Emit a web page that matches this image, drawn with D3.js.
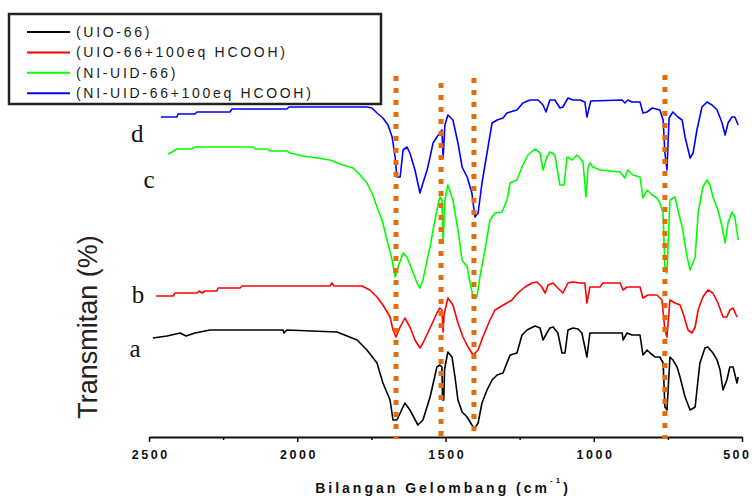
<!DOCTYPE html>
<html>
<head>
<meta charset="utf-8">
<script src="https://cdn.jsdelivr.net/npm/d3@7"></script>
<style>
  body { margin: 0; background: #fff; }
  svg { display: block; }
  .tickLbl { font-family: 'Liberation Sans', Arial, sans-serif; font-size: 12.5px; font-weight: bold; letter-spacing: 2.5px; fill: #111; }
  .legendTxt { font-family: 'Liberation Sans', Arial, sans-serif; font-size: 14px; letter-spacing: 2.7px; fill: #1a1a1a; }
  .curveLbl { font-family: 'Liberation Serif', 'Times New Roman', serif; font-size: 25px; fill: #111; }
</style>
</head>
<body>
<div id="ftir"></div>
<script>
// FTIR spectra: [wavenumber cm-1, transmittance with offset]
let spectrumA = [
  [2487, 99], [2439, 101], [2395, 104], [2375, 101], [2345, 104], [2294, 107], [2048, 107], [2045, 104],
  [2035, 107], [1866, 105], [1798, 97], [1765, 87], [1731, 74], [1711, 54], [1687, 37], [1677, 17],
  [1664, 17], [1637, 34], [1620, 27], [1593, 12], [1576, 17], [1552, 40], [1529, 70], [1519, 72],
  [1512, 70], [1510, 37], [1506, 37], [1503, 68], [1492, 85], [1478, 80], [1468, 60], [1458, 37],
  [1444, 25], [1427, 20], [1411, 12], [1401, 9], [1390, 14], [1377, 34], [1360, 47], [1343, 57],
  [1326, 62], [1306, 64], [1293, 74], [1282, 82], [1259, 84], [1242, 102], [1225, 107], [1198, 111],
  [1181, 109], [1171, 97], [1158, 104], [1148, 109], [1137, 110], [1121, 104], [1107, 84], [1097, 84],
  [1087, 107], [1070, 109], [1053, 108], [1040, 104], [1023, 80], [1013, 104], [904, 104], [901, 97],
  [888, 104], [871, 102], [844, 102], [834, 82], [820, 87], [810, 84], [793, 80], [777, 80],
  [766, 74], [760, 30], [753, 27], [743, 80], [733, 77], [719, 70], [709, 60], [692, 40],
  [675, 27], [658, 30], [652, 47], [642, 74], [625, 89], [615, 90], [598, 84], [584, 77],
  [574, 67], [564, 47], [551, 57], [541, 70], [530, 70], [517, 54], [513, 60]
]
let spectrumB = [
  [2476, 141], [2419, 141], [2412, 144], [2338, 144], [2331, 146], [2321, 144], [2311, 146], [2271, 146],
  [2267, 149], [2193, 149], [2186, 151], [2024, 151], [1890, 151], [1883, 154], [1876, 151], [1782, 151],
  [1755, 147], [1731, 140], [1711, 132], [1687, 120], [1677, 107], [1667, 100], [1653, 110], [1637, 119],
  [1620, 110], [1603, 97], [1586, 89], [1576, 94], [1552, 109], [1529, 124], [1519, 129], [1512, 127],
  [1508, 105], [1505, 122], [1492, 139], [1475, 132], [1458, 114], [1441, 100], [1424, 90], [1407, 82],
  [1390, 87], [1374, 100], [1350, 117], [1333, 127], [1316, 130], [1293, 134], [1276, 137], [1256, 144],
  [1232, 150], [1208, 154], [1191, 155], [1175, 150], [1164, 144], [1154, 152], [1137, 154], [1121, 149],
  [1104, 144], [1087, 154], [1070, 155], [1046, 154], [1030, 154], [1023, 134], [1013, 150], [979, 150],
  [969, 154], [911, 154], [901, 147], [888, 150], [844, 150], [834, 139], [817, 142], [787, 142],
  [770, 137], [760, 107], [753, 100], [743, 137], [726, 134], [709, 132], [699, 124], [682, 107],
  [669, 104], [658, 110], [648, 127], [632, 140], [615, 147], [598, 144], [581, 134], [564, 120],
  [551, 120], [541, 127], [530, 129], [517, 120]
]
let spectrumC = [
  [2436, 283], [2422, 285], [2406, 288], [2355, 288], [2345, 290], [2149, 290], [2142, 288], [2099, 288],
  [2092, 286], [2035, 286], [2024, 284], [1981, 281], [1933, 279], [1890, 277], [1846, 272], [1812, 269],
  [1788, 262], [1765, 254], [1748, 244], [1731, 230], [1714, 217], [1697, 197], [1680, 177], [1670, 160],
  [1660, 170], [1643, 184], [1630, 180], [1613, 167], [1596, 154], [1586, 149], [1576, 157], [1562, 177],
  [1552, 190], [1542, 207], [1529, 227], [1519, 240], [1512, 237], [1508, 194], [1502, 237], [1492, 252],
  [1475, 237], [1458, 207], [1444, 177], [1427, 170], [1417, 154], [1407, 140], [1394, 140], [1384, 160],
  [1367, 187], [1350, 217], [1333, 224], [1309, 225], [1293, 237], [1282, 254], [1259, 257], [1242, 270],
  [1222, 282], [1198, 288], [1181, 284], [1171, 267], [1158, 280], [1148, 285], [1131, 282], [1114, 252],
  [1100, 252], [1090, 280], [1073, 277], [1057, 282], [1046, 279], [1036, 274], [1026, 240], [1019, 270],
  [1013, 274], [1003, 270], [979, 267], [911, 265], [895, 259], [885, 267], [868, 262], [844, 260],
  [834, 239], [820, 247], [803, 242], [787, 239], [777, 234], [766, 224], [760, 167], [753, 164],
  [743, 237], [726, 240], [716, 227], [702, 210], [685, 180], [675, 167], [658, 180], [648, 224],
  [632, 250], [618, 257], [608, 252], [598, 240], [581, 227], [567, 210], [557, 194], [547, 214],
  [534, 225], [524, 220], [513, 197]
]
let spectrumD = [
  [2460, 320], [2406, 320], [2402, 323], [2345, 323], [2338, 325], [2227, 325], [2220, 328], [2035, 328],
  [2028, 330], [1765, 330], [1748, 329], [1731, 324], [1711, 319], [1694, 312], [1680, 300], [1670, 280],
  [1664, 260], [1653, 260], [1643, 287], [1630, 290], [1620, 284], [1603, 267], [1586, 244], [1576, 254],
  [1562, 267], [1552, 280], [1542, 294], [1529, 300], [1519, 304], [1512, 307], [1508, 279], [1502, 312],
  [1492, 322], [1475, 317], [1458, 294], [1444, 270], [1427, 260], [1411, 244], [1401, 220], [1390, 224],
  [1377, 254], [1360, 284], [1343, 314], [1326, 317], [1306, 319], [1293, 324], [1282, 325], [1259, 327],
  [1239, 334], [1215, 337], [1188, 337], [1171, 332], [1161, 325], [1148, 337], [1131, 337], [1114, 329],
  [1104, 330], [1087, 339], [1070, 337], [1046, 337], [1030, 335], [1023, 320], [1010, 336], [904, 337],
  [895, 334], [885, 337], [871, 335], [844, 335], [834, 324], [820, 325], [803, 329], [777, 327],
  [766, 317], [760, 284], [753, 267], [746, 319], [733, 325], [716, 320], [702, 317], [692, 300],
  [675, 279], [665, 284], [652, 307], [635, 330], [618, 335], [601, 332], [584, 327], [567, 314],
  [557, 302], [547, 314], [534, 320], [524, 320], [513, 312]
]

let seriesNames = ['(UIO-66)', '(UIO-66+100eq HCOOH)', '(NI-UID-66)', '(NI-UID-66+100eq HCOOH)']
let curveLetters = ['a', 'b', 'c', 'd']
let majorTicks = [2500, 2000, 1500, 1000, 500]
let minorTicks = [2250, 1750, 1250, 750]
// marked bands (cm-1) and how high the dotted guide goes
let bandWaves = [1667, 1515, 1404, 760]
let bandTops = [361, 354, 359, 362]

var allSpectra = [spectrumA, spectrumB, spectrumC, spectrumD]
var colors = ['#000000', '#ff0000', '#00ff00', '#0000ff']
// where the a-d letters sit, in data units
var letterPos = [[2547, 80], [2537, 134], [2500, 249], [2540, 295]]

var width = 752
var height = 496

var x = d3.scaleLinear()
  .domain([2500, 500])
  .range([149, 742])

var y = d3.scaleLinear()
  .domain([0, 370])
  .range([437, 67])

var svg = d3.select('#ftir')
  .append('svg')
  .attr('width', width)
  .attr('height', height)

// spectra
var line = d3.line()
  .x(function (d) { return x(d[0]) })
  .y(function (d) { return y(d[1]) })

svg.selectAll('path.spec')
  .data(allSpectra)
  .enter()
  .append('path')
  .attr('class', 'spec')
  .attr('d', line)
  .attr('fill', 'none')
  .attr('stroke', function (d, i) { return colors[i] })
  .attr('stroke-width', 1.6)
  .attr('stroke-linejoin', 'round')

// curve letters
svg.selectAll('text.curveLbl')
  .data(curveLetters)
  .enter()
  .append('text')
  .attr('class', 'curveLbl')
  .attr('x', function (d, i) { return x(letterPos[i][0]) })
  .attr('y', function (d, i) { return y(letterPos[i][1]) })
  .attr('text-anchor', 'middle')
  .text(function (d) { return d })

// x axis, major and minor ticks
var axisG = svg.append('g')
  .attr('transform', 'translate(0,' + y(0) + ')')
  .call(d3.axisBottom(x).tickValues(majorTicks).tickFormat(d3.format('d')).tickSize(5).tickSizeOuter(0).tickPadding(8))

axisG.select('.domain').attr('stroke', '#111').attr('stroke-width', 2)
axisG.selectAll('.tick line').attr('stroke', '#111').attr('stroke-width', 1.5)
axisG.selectAll('.tick text')
  .attr('class', 'tickLbl')
  .attr('font-size', null)
  .attr('font-family', null)
  .attr('fill', null)
  .attr('dx', '1.2px')

// last label would run off the right edge, so pin it there
axisG.selectAll('.tick text')
  .filter(function (d) { return d === 500 })
  .attr('text-anchor', 'end')
  .attr('dx', 752 - x(500) - 1)

svg.append('g')
  .attr('transform', 'translate(0,' + y(0) + ')')
  .call(d3.axisBottom(x).tickValues(minorTicks).tickSize(3).tickSizeOuter(0).tickFormat(''))
  .call(function (g) { g.select('.domain').remove() })
  .selectAll('.tick line').attr('stroke', '#111').attr('stroke-width', 1.5)

// axis titles
var xTitle = svg.append('text')
  .attr('x', 443)
  .attr('y', 493)
  .attr('text-anchor', 'middle')
  .style('font-family', "'Liberation Sans', Arial, sans-serif")
  .style('font-size', '14px')
  .style('font-weight', 'bold')
  .style('letter-spacing', '3px')
  .style('fill', '#111')
xTitle.append('tspan').text('Bilangan Gelombang (cm')
xTitle.append('tspan').attr('dy', -10).style('font-size', '8px').text('-1')
xTitle.append('tspan').attr('dy', 10).text(')')

svg.append('text')
  .attr('transform', 'translate(97,327) rotate(-90)')
  .attr('text-anchor', 'middle')
  .style('font-family', "'Liberation Sans', Arial, sans-serif")
  .style('font-size', '27px')
  .style('fill', '#222')
  .text('Transmitan (%)')

// dotted guides at the marked bands
svg.selectAll('line.band')
  .data(bandWaves)
  .enter()
  .append('line')
  .attr('class', 'band')
  .attr('x1', function (d) { return x(d) })
  .attr('x2', function (d) { return x(d) })
  .attr('y1', function (d, i) { return y(bandTops[i]) })
  .attr('y2', y(0) + 2)
  .attr('stroke', '#e46c0a')
  .attr('stroke-width', 5)
  .attr('stroke-dasharray', '5,7')

// legend
var legend = svg.append('g')

legend.append('rect')
  .attr('x', 9)
  .attr('y', 14)
  .attr('width', 372)
  .attr('height', 90)
  .attr('fill', '#fff')
  .attr('stroke', '#222')
  .attr('stroke-width', 2.5)

var rows = legend.selectAll('g.row')
  .data(seriesNames)
  .enter()
  .append('g')
  .attr('class', 'row')
  .attr('transform', function (d, i) { return 'translate(0,' + (32 + i * 20.4) + ')' })

rows.append('line')
  .attr('x1', 27)
  .attr('x2', 70)
  .attr('stroke', function (d, i) { return colors[i] })
  .attr('stroke-width', 2)

rows.append('text')
  .attr('class', 'legendTxt')
  .attr('x', 76)
  .attr('y', 5)
  .text(function (d) { return d })
</script>
</body>
</html>
